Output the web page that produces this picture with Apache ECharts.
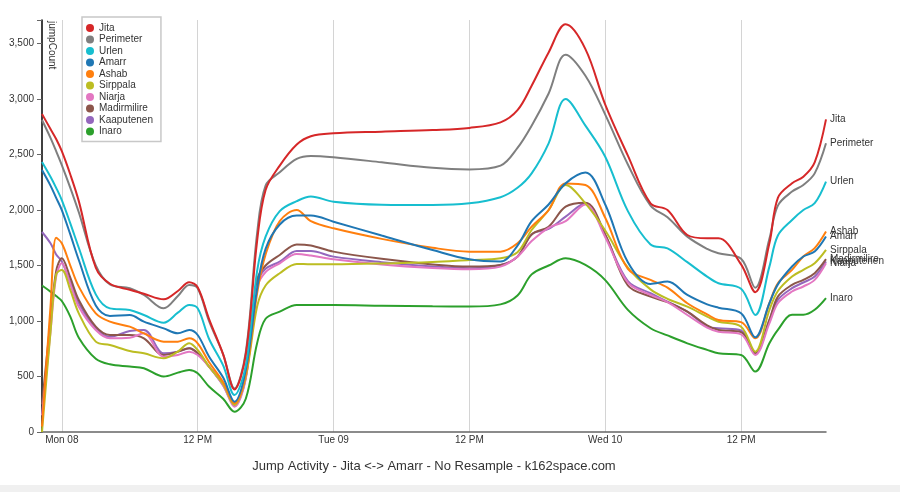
<!DOCTYPE html>
<html><head><meta charset="utf-8">
<script src="https://cdn.jsdelivr.net/npm/echarts@6.0.0/dist/echarts.min.js"></script>
<style>html,body{margin:0;padding:0;background:#fff}#c{width:900px;height:492px}</style>
</head><body><div id="c"></div>
<script>
// hours since Mon 08 00:00
const hours = [-1.75, -1, -0.5, 0, 0.75, 1.5, 3, 4.25, 6, 7.25, 9, 10.25, 11.25, 12, 13, 14.25, 15.25, 16.25, 17.25, 18, 19.25, 20.75, 22, 24, 28.25, 32.75, 36, 38.75, 40.25, 41.5, 43, 44.5, 46.25, 48, 50, 52, 53.5, 55.25, 57, 58, 60, 61.25, 62.5, 63.25, 64.5, 65.5, 66.5, 67.5];
const tickHours = [0, 12, 24, 36, 48, 60];
const tickLabels = ['Mon 08', '12 PM', 'Tue 09', '12 PM', 'Wed 10', '12 PM'];
const yTicks = [0, 500, 1000, 1500, 2000, 2500, 3000, 3500];

const jita        = [2865, 2730, 2640, 2530, 2320, 2080, 1480, 1336, 1281, 1245, 1195, 1270, 1350, 1305, 1020, 700, 384, 700, 1720, 2180, 2400, 2590, 2665, 2691, 2706, 2721, 2740, 2790, 2900, 3120, 3420, 3673, 3450, 2950, 2490, 2060, 2000, 1775, 1745, 1745, 1510, 1260, 1700, 2110, 2241, 2300, 2430, 2817];
const perimeter   = [2811, 2650, 2530, 2405, 2200, 1980, 1500, 1330, 1295, 1235, 1114, 1225, 1325, 1295, 1000, 700, 393, 720, 1790, 2220, 2340, 2460, 2487, 2475, 2430, 2380, 2366, 2400, 2560, 2760, 3050, 3400, 3210, 2860, 2410, 2040, 1935, 1760, 1650, 1610, 1560, 1300, 1740, 2040, 2166, 2226, 2330, 2601];
const urlen       = [2433, 2300, 2200, 2090, 1880, 1660, 1240, 1114, 1100, 1054, 985, 1075, 1144, 1114, 840, 600, 333, 600, 1450, 1760, 1990, 2080, 2121, 2075, 2048, 2045, 2060, 2115, 2200, 2330, 2600, 3000, 2760, 2480, 1990, 1690, 1655, 1530, 1400, 1340, 1290, 1054, 1490, 1770, 1910, 2000, 2061, 2256];
const amarr       = [2360, 2220, 2110, 2000, 1780, 1550, 1140, 1045, 1054, 994, 934, 889, 919, 874, 680, 490, 273, 560, 1290, 1650, 1870, 1950, 1950, 1895, 1770, 1640, 1556, 1536, 1680, 1900, 2050, 2240, 2337, 2050, 1530, 1334, 1355, 1235, 1150, 1120, 1070, 853, 1160, 1330, 1491, 1581, 1626, 1761];
const ashab       = [50, 1130, 1750, 1700, 1500, 1310, 1069, 994, 949, 889, 814, 814, 844, 799, 630, 450, 258, 520, 1250, 1600, 1900, 2000, 1900, 1835, 1740, 1660, 1625, 1625, 1700, 1850, 2000, 2240, 2225, 1930, 1470, 1370, 1300, 1160, 1060, 1009, 990, 844, 1160, 1340, 1461, 1581, 1656, 1806];
const sirppala    = [0, 900, 1420, 1460, 1280, 1069, 814, 784, 730, 709, 664, 724, 800, 739, 590, 430, 243, 500, 1130, 1320, 1430, 1514, 1511, 1511, 1518, 1532, 1550, 1565, 1620, 1820, 2000, 2225, 2060, 1815, 1480, 1285, 1200, 1129, 1040, 994, 949, 724, 1099, 1270, 1401, 1461, 1521, 1641];
const niarja      = [150, 900, 1400, 1520, 1330, 1129, 919, 844, 850, 890, 679, 694, 724, 694, 590, 420, 228, 480, 1300, 1440, 1520, 1604, 1590, 1556, 1510, 1478, 1466, 1490, 1580, 1720, 1840, 1900, 2050, 1755, 1345, 1235, 1170, 1054, 940, 904, 880, 694, 979, 1160, 1266, 1311, 1371, 1521];
const madirmilire = [250, 1000, 1450, 1565, 1390, 1189, 949, 874, 874, 844, 694, 724, 754, 709, 590, 430, 258, 500, 1370, 1500, 1595, 1690, 1680, 1625, 1560, 1510, 1490, 1505, 1580, 1780, 1850, 2030, 2066, 1780, 1320, 1220, 1170, 1084, 960, 919, 900, 709, 1009, 1220, 1326, 1371, 1431, 1557];
const kaaputenen  = [1802, 1700, 1600, 1535, 1350, 1159, 934, 859, 910, 920, 709, 724, 754, 709, 590, 420, 243, 490, 1340, 1470, 1535, 1630, 1630, 1580, 1530, 1492, 1475, 1505, 1580, 1780, 1830, 1940, 2060, 1770, 1360, 1250, 1175, 1084, 950, 934, 915, 709, 1009, 1190, 1296, 1347, 1401, 1536];
const inaro       = [1320, 1265, 1225, 1180, 1040, 850, 660, 610, 590, 574, 500, 535, 559, 529, 410, 300, 183, 300, 800, 1020, 1084, 1144, 1144, 1144, 1138, 1132, 1130, 1150, 1230, 1420, 1500, 1565, 1505, 1368, 1100, 935, 870, 799, 740, 709, 694, 544, 799, 920, 1056, 1056, 1101, 1206];

const seriesNames  = ['Jita', 'Perimeter', 'Urlen', 'Amarr', 'Ashab', 'Sirppala', 'Niarja', 'Madirmilire', 'Kaaputenen', 'Inaro'];
const seriesValues = [jita, perimeter, urlen, amarr, ashab, sirppala, niarja, madirmilire, kaaputenen, inaro];
const seriesColors = ['#d62728', '#7f7f7f', '#17becf', '#1f77b4', '#ff7f0e', '#bcbd22', '#e377c2', '#8c564b', '#9467bd', '#2ca02c'];

const FONT = 'Liberation Sans, Arial, sans-serif';
const chart = echarts.init(document.getElementById('c'));

const series = seriesNames.map((name, i) => ({
  name: name,
  type: 'line',
  data: hours.map((h, k) => [h, seriesValues[i][k]]),
  smooth: 0.35,
  showSymbol: false,
  symbol: 'none',
  lineStyle: { width: 2, color: seriesColors[i] },
  itemStyle: { color: seriesColors[i] },
  endLabel: { show: true, formatter: '{a}', fontSize: 10, color: '#333', fontFamily: FONT, distance: 4 },
  emphasis: { disabled: true }
})).reverse();

chart.setOption({
  animation: false,
  textStyle: { fontFamily: FONT },
  grid: { left: 42, right: 74, top: 20, bottom: 60, containLabel: false },
  legend: {
    data: seriesNames,
    orient: 'vertical',
    left: 82, top: 17,
    icon: 'circle',
    itemWidth: 8, itemHeight: 8, itemGap: 1.5,
    padding: [6, 8, 5, 4],
    borderColor: '#c8c8c8', borderWidth: 1.5,
    backgroundColor: '#fff',
    textStyle: { fontSize: 10, color: '#333', lineHeight: 8, fontFamily: FONT },
    selectedMode: false
  },
  xAxis: {
    type: 'value', min: -1.75, max: 67.5,
    axisLine: { show: true, onZero: false, lineStyle: { color: '#666', width: 1.5 } },
    axisTick: { show: false, customValues: tickHours },
    axisLabel: { customValues: tickHours, formatter: v => tickLabels[tickHours.indexOf(v)] || '', fontSize: 10, color: '#333', margin: 3 },
    splitLine: { show: true, lineStyle: { color: '#d4d4d4', width: 1 } }
  },
  yAxis: {
    type: 'value', min: 0, max: 3712,
    axisLine: { show: true, onZero: false, lineStyle: { color: '#000', width: 1.5 } },
    axisTick: { show: true, length: 5, customValues: yTicks.concat([3712]), lineStyle: { color: '#666' } },
    axisLabel: { customValues: yTicks, formatter: v => v.toLocaleString('en-US'), fontSize: 10, color: '#333', margin: 8 },
    splitLine: { show: false }
  },
  graphic: [
    { type: 'text', x: 51.5, y: 21, rotation: -Math.PI / 2,
      style: { text: 'jumpCount', fontSize: 10, fill: '#333', fontFamily: FONT, textAlign: 'left', textVerticalAlign: 'middle' } },
    { type: 'text', x: 434, y: 466,
      style: { text: 'Jump Activity - Jita <-> Amarr - No Resample - k162space.com', fontSize: 13, fill: '#333', fontFamily: FONT, textAlign: 'center', textVerticalAlign: 'middle' } },
    { type: 'rect', shape: { x: 0, y: 485, width: 900, height: 7 }, style: { fill: '#f0f0f0' }, silent: true }
  ],
  series: series
});
</script>
</body></html>
